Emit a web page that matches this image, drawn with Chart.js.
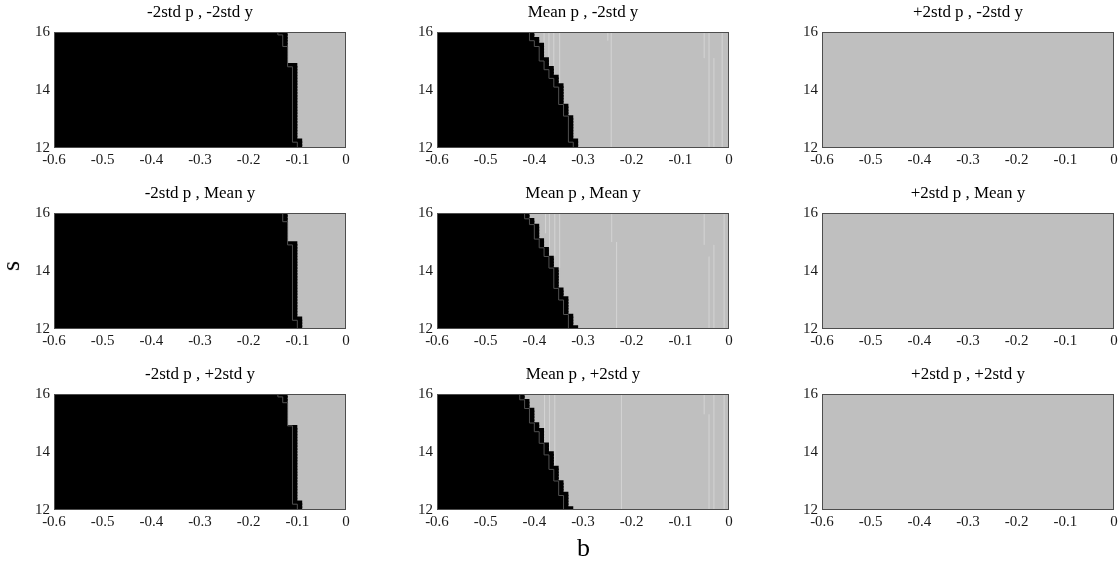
<!DOCTYPE html>
<html>
<head>
<meta charset="utf-8">
<script src="https://cdn.jsdelivr.net/npm/chart.js@4.4.0/dist/chart.umd.min.js"></script>
<style>
  body { margin: 0; background: #fff; }
  #fig { position: relative; width: 1120px; height: 566px; font-family: 'Liberation Serif', 'DejaVu Serif', serif; color: #000; overflow: hidden; }
  .panel { position: absolute; }
  .ttl { position: absolute; font-size: 16px; line-height: 18px; white-space: nowrap; transform: translateX(-50%) scaleX(1.06); }
  .axlab { position: absolute; font-size: 26px; line-height: 28px; }
</style>
</head>
<body>
<div id="fig"></div>
<script>
// s grid (row edges), tick values
const sEdges = [12.0, 12.1, 12.2, 12.3, 12.4, 12.5, 12.6, 12.7, 12.8, 12.9,
                13.0, 13.1, 13.2, 13.3, 13.4, 13.5, 13.6, 13.7, 13.8, 13.9,
                14.0, 14.1, 14.2, 14.3, 14.4, 14.5, 14.6, 14.7, 14.8, 14.9,
                15.0, 15.1, 15.2, 15.3, 15.4, 15.5, 15.6, 15.7, 15.8, 15.9, 16.0];
const xTicks = [-0.6, -0.5, -0.4, -0.3, -0.2, -0.1, 0];
const yTicks = [12, 14, 16];

const rowTitles = ['-2std y', 'Mean y', '+2std y'];
const colTitles = ['-2std p', 'Mean p', '+2std p'];

// black region reaches b = value, one value per s row (bottom to top)
const black11 = [-0.09, -0.09, -0.09, -0.10, -0.10, -0.10, -0.10, -0.10, -0.10, -0.10,
                 -0.10, -0.10, -0.10, -0.10, -0.10, -0.10, -0.10, -0.10, -0.10, -0.10,
                 -0.10, -0.10, -0.10, -0.10, -0.10, -0.10, -0.10, -0.10, -0.10, -0.12,
                 -0.12, -0.12, -0.12, -0.12, -0.12, -0.12, -0.12, -0.12, -0.12, -0.12];
const black21 = [-0.09, -0.09, -0.09, -0.09, -0.10, -0.10, -0.10, -0.10, -0.10, -0.10,
                 -0.10, -0.10, -0.10, -0.10, -0.10, -0.10, -0.10, -0.10, -0.10, -0.10,
                 -0.10, -0.10, -0.10, -0.10, -0.10, -0.10, -0.10, -0.10, -0.10, -0.10,
                 -0.12, -0.12, -0.12, -0.12, -0.12, -0.12, -0.12, -0.12, -0.12, -0.12];
const black31 = [-0.09, -0.09, -0.09, -0.10, -0.10, -0.10, -0.10, -0.10, -0.10, -0.10,
                 -0.10, -0.10, -0.10, -0.10, -0.10, -0.10, -0.10, -0.10, -0.10, -0.10,
                 -0.10, -0.10, -0.10, -0.10, -0.10, -0.10, -0.10, -0.10, -0.10, -0.12,
                 -0.12, -0.12, -0.12, -0.12, -0.12, -0.12, -0.12, -0.12, -0.12, -0.12];
const black12 = [-0.31, -0.31, -0.31, -0.32, -0.32, -0.32, -0.32, -0.32, -0.32, -0.32,
                 -0.32, -0.33, -0.33, -0.33, -0.33, -0.34, -0.34, -0.34, -0.34, -0.34,
                 -0.34, -0.34, -0.35, -0.35, -0.35, -0.36, -0.36, -0.36, -0.37, -0.37,
                 -0.37, -0.38, -0.38, -0.38, -0.38, -0.38, -0.39, -0.39, -0.40, -0.40];
const black22 = [-0.31, -0.32, -0.32, -0.32, -0.32, -0.33, -0.33, -0.33, -0.33, -0.33,
                 -0.33, -0.34, -0.34, -0.34, -0.35, -0.35, -0.35, -0.35, -0.35, -0.35,
                 -0.35, -0.36, -0.36, -0.36, -0.36, -0.37, -0.37, -0.37, -0.38, -0.38,
                 -0.38, -0.39, -0.39, -0.39, -0.39, -0.39, -0.40, -0.40, -0.41, -0.41];
const black32 = [-0.32, -0.33, -0.33, -0.33, -0.33, -0.33, -0.34, -0.34, -0.34, -0.34,
                 -0.35, -0.35, -0.35, -0.35, -0.35, -0.36, -0.36, -0.36, -0.36, -0.36,
                 -0.37, -0.37, -0.37, -0.38, -0.38, -0.38, -0.38, -0.38, -0.39, -0.39,
                 -0.40, -0.40, -0.40, -0.40, -0.40, -0.41, -0.41, -0.41, -0.42, -0.42];
const blackNone = [-0.6, -0.6, -0.6, -0.6, -0.6, -0.6, -0.6, -0.6, -0.6, -0.6,
                   -0.6, -0.6, -0.6, -0.6, -0.6, -0.6, -0.6, -0.6, -0.6, -0.6,
                   -0.6, -0.6, -0.6, -0.6, -0.6, -0.6, -0.6, -0.6, -0.6, -0.6,
                   -0.6, -0.6, -0.6, -0.6, -0.6, -0.6, -0.6, -0.6, -0.6, -0.6];

// dark grey contour line, one b per s row
const cont11 = [-0.10, -0.10, -0.11, -0.11, -0.11, -0.11, -0.11, -0.11, -0.11, -0.11,
                -0.11, -0.11, -0.11, -0.11, -0.11, -0.11, -0.11, -0.11, -0.11, -0.11,
                -0.11, -0.11, -0.11, -0.11, -0.11, -0.11, -0.11, -0.11, -0.12, -0.12,
                -0.12, -0.12, -0.12, -0.12, -0.12, -0.13, -0.13, -0.13, -0.13, -0.14];
const cont21 = [-0.10, -0.10, -0.10, -0.11, -0.11, -0.11, -0.11, -0.11, -0.11, -0.11,
                -0.11, -0.11, -0.11, -0.11, -0.11, -0.11, -0.11, -0.11, -0.11, -0.11,
                -0.11, -0.11, -0.11, -0.11, -0.11, -0.11, -0.11, -0.11, -0.11, -0.12,
                -0.12, -0.12, -0.12, -0.12, -0.12, -0.12, -0.12, -0.13, -0.13, -0.13];
const cont31 = [-0.10, -0.10, -0.11, -0.11, -0.11, -0.11, -0.11, -0.11, -0.11, -0.11,
                -0.11, -0.11, -0.11, -0.11, -0.11, -0.11, -0.11, -0.11, -0.11, -0.11,
                -0.11, -0.11, -0.11, -0.11, -0.11, -0.11, -0.11, -0.11, -0.11, -0.12,
                -0.12, -0.12, -0.12, -0.12, -0.12, -0.12, -0.12, -0.13, -0.13, -0.14];
const cont12 = [-0.32, -0.32, -0.33, -0.33, -0.33, -0.33, -0.33, -0.33, -0.33, -0.33,
                -0.33, -0.34, -0.34, -0.34, -0.34, -0.35, -0.35, -0.35, -0.35, -0.35,
                -0.35, -0.36, -0.36, -0.36, -0.37, -0.37, -0.37, -0.38, -0.38, -0.38,
                -0.39, -0.39, -0.39, -0.39, -0.39, -0.40, -0.40, -0.41, -0.41, -0.41];
const cont22 = [-0.33, -0.33, -0.33, -0.33, -0.33, -0.34, -0.34, -0.34, -0.34, -0.34,
                -0.35, -0.35, -0.35, -0.35, -0.36, -0.36, -0.36, -0.36, -0.36, -0.36,
                -0.36, -0.37, -0.37, -0.37, -0.37, -0.38, -0.38, -0.38, -0.39, -0.39,
                -0.39, -0.40, -0.40, -0.40, -0.40, -0.40, -0.41, -0.41, -0.42, -0.42];
const cont32 = [-0.34, -0.34, -0.34, -0.34, -0.34, -0.35, -0.35, -0.35, -0.35, -0.35,
                -0.36, -0.36, -0.36, -0.36, -0.37, -0.37, -0.37, -0.37, -0.37, -0.38,
                -0.38, -0.38, -0.38, -0.39, -0.39, -0.39, -0.39, -0.40, -0.40, -0.40,
                -0.41, -0.41, -0.41, -0.41, -0.41, -0.42, -0.42, -0.42, -0.43, -0.43];

// faint light lines in the grey region: [b, s from, s to]
const light12 = [[-0.38, 15.0, 16], [-0.37, 14.6, 16], [-0.36, 14.4, 16], [-0.348, 14.2, 16],
                 [-0.249, 15.7, 16], [-0.242, 12, 16], [-0.051, 15.1, 16], [-0.041, 12, 16],
                 [-0.031, 12, 15.1], [-0.014, 12, 16]];
const light22 = [[-0.377, 15.3, 16], [-0.369, 14.8, 16], [-0.358, 14.5, 16], [-0.348, 14.1, 16],
                 [-0.241, 15.0, 16], [-0.231, 12, 15.0], [-0.051, 14.9, 16], [-0.041, 12, 14.5],
                 [-0.031, 12, 14.9], [-0.010, 12, 16]];
const light32 = [[-0.379, 14.3, 16], [-0.369, 13.9, 16], [-0.358, 13.4, 16], [-0.221, 12, 16],
                 [-0.051, 15.3, 16], [-0.041, 12, 15.3], [-0.031, 12, 16], [-0.010, 12, 16]];

const panelBlack = [[black11, black12, blackNone], [black21, black22, blackNone], [black31, black32, blackNone]];
const panelCont = [[cont11, cont12, []], [cont21, cont22, []], [cont31, cont32, []]];
const panelLight = [[[], light12, []], [[], light22, []], [[], light32, []]];

// layout (pixels)
const colLeft = [54, 437, 822];
const rowTop = [25, 206, 387];
const PW = 292, PH = 123;
const AXW = 44, AXH = 26, PADT = 6, PADR = 14;

const fig = document.getElementById('fig');

// grey behind the cells (hides antialias seams) and the axes box on top
const boxPlugin = {
  id: 'box',
  beforeDatasetsDraw(chart) {
    const a = chart.chartArea, ctx = chart.ctx;
    ctx.save();
    ctx.fillStyle = '#bfbfbf';
    ctx.fillRect(a.left, a.top, a.right - a.left, a.bottom - a.top);
    ctx.restore();
  },
  afterDatasetsDraw(chart) {
    const a = chart.chartArea, ctx = chart.ctx;
    ctx.save();
    ctx.strokeStyle = '#4d4d4d';
    ctx.lineWidth = 1;
    ctx.strokeRect(a.left + 0.5, a.top + 0.5, a.right - a.left - 1, a.bottom - a.top - 1);
    ctx.restore();
  }
};

const tickFont = { family: "'Liberation Serif', serif", size: 15 };

function makePanel(row, col) {
  const L = colLeft[col], T = rowTop[row];
  const blk = panelBlack[row][col];
  const cont = panelCont[row][col];
  const light = panelLight[row][col];

  const blackBars = [], grayBars = [], contPts = [], lightPts = [];
  for (let i = 0; i < blk.length; i++) {
    const sMid = (sEdges[i] + sEdges[i + 1]) / 2;
    blackBars.push({ x: [-0.6, blk[i]], y: sMid });
    grayBars.push({ x: [blk[i], 0], y: sMid });
  }
  for (let i = 0; i < cont.length; i++) {
    contPts.push({ x: cont[i], y: sEdges[i] });
    contPts.push({ x: cont[i], y: sEdges[i + 1] });
  }
  light.forEach(l => {
    lightPts.push({ x: l[0], y: l[1] });
    lightPts.push({ x: l[0], y: l[2] });
    lightPts.push({ x: null, y: null });
  });

  const wrap = document.createElement('div');
  wrap.className = 'panel';
  wrap.style.left = (L - AXW) + 'px';
  wrap.style.top = (T - PADT) + 'px';
  wrap.style.width = (PW + AXW + PADR) + 'px';
  wrap.style.height = (PH + PADT + AXH) + 'px';
  const cv = document.createElement('canvas');
  wrap.appendChild(cv);
  fig.appendChild(wrap);

  const title = document.createElement('div');
  title.className = 'ttl';
  title.textContent = colTitles[col] + ' , ' + rowTitles[row];
  title.style.left = (L + PW / 2) + 'px';
  title.style.top = (T - 22) + 'px';
  fig.appendChild(title);

  new Chart(cv, {
    type: 'bar',
    data: {
      datasets: [
        { type: 'line', data: contPts, borderColor: '#505050', borderWidth: 1, pointRadius: 0, order: 0 },
        { data: blackBars, backgroundColor: '#000000', order: 1 },
        { type: 'line', data: lightPts, borderColor: '#d4d4d4', borderWidth: 1, pointRadius: 0, order: 2, spanGaps: false },
        { data: grayBars, backgroundColor: '#bfbfbf', order: 3 }
      ]
    },
    options: {
      indexAxis: 'y',
      responsive: true,
      maintainAspectRatio: false,
      animation: false,
      layout: { padding: { top: PADT, right: PADR, left: 0, bottom: 0 } },
      plugins: { legend: { display: false }, tooltip: { enabled: false } },
      datasets: { bar: { grouped: false, barPercentage: 1.6, categoryPercentage: 1, borderWidth: 0 } },
      scales: {
        x: {
          type: 'linear', min: -0.6, max: 0,
          grid: { display: false, drawTicks: false },
          border: { display: false },
          ticks: {
            font: tickFont, color: '#1a1a1a', padding: 3, maxRotation: 0,
            callback: v => (v === 0 ? '0' : v.toFixed(1))
          },
          afterBuildTicks: s => { s.ticks = xTicks.map(v => ({ value: v })); },
          afterFit: s => { s.height = AXH; }
        },
        y: {
          type: 'linear', min: 12, max: 16, offset: false,
          grid: { display: false, drawTicks: false },
          border: { display: false },
          ticks: { font: tickFont, color: '#1a1a1a', padding: 4 },
          afterBuildTicks: s => { s.ticks = yTicks.map(v => ({ value: v })); },
          afterFit: s => { s.width = AXW; }
        }
      }
    },
    plugins: [boxPlugin]
  });
}

for (let r = 0; r < 3; r++) {
  for (let c = 0; c < 3; c++) makePanel(r, c);
}

// shared axis labels
const xl = document.createElement('div');
xl.className = 'axlab';
xl.textContent = 'b';
xl.style.left = '577px';
xl.style.top = '534px';
fig.appendChild(xl);

const yl = document.createElement('div');
yl.className = 'axlab';
yl.textContent = 's';
yl.style.left = '6px';
yl.style.top = '252px';
yl.style.transform = 'rotate(-90deg)';
fig.appendChild(yl);
</script>
</body>
</html>
